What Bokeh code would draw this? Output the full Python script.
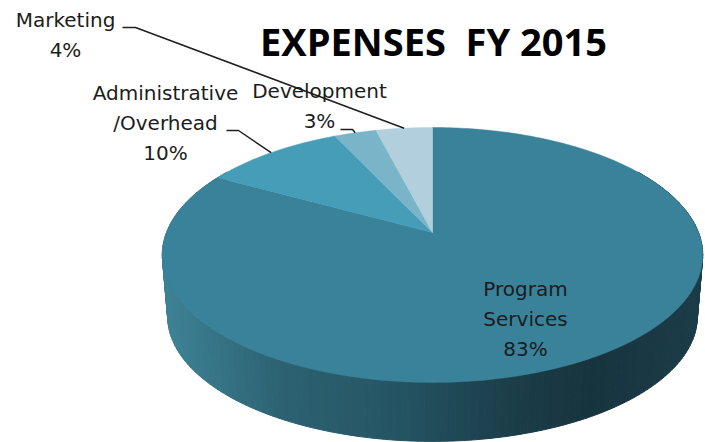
import math
from bokeh.plotting import figure
from bokeh.models import Range1d
from bokeh.embed import file_html
from bokeh.resources import INLINE

title = "EXPENSES\u00a0\u00a0FY 2015"
categories = ["Program Services", "Administrative /Overhead", "Development", "Marketing"]
values = [83, 10, 3, 4]
label_lines = [["Program", "Services", "83%"],
               ["Administrative", "/Overhead", "10%"],
               ["Development", "3%"],
               ["Marketing", "4%"]]
colors = ["#3a8299", "#469db7", "#7ab4c9", "#b1cfdc"]

W, H = 705, 442
p = figure(width=W, height=H, output_backend="svg", toolbar_location=None,
           x_range=Range1d(0, W), y_range=Range1d(H, 0),
           min_border=0, outline_line_color=None, background_fill_color="white")
p.axis.visible = False
p.grid.visible = False

CX, CY, B, A, K = 432, 232, 266, 123.5, 0.176
DEPTH, SHRINK = 62, 0.98


def project(frac, scale=1.0, dy=0.0):
    t = 2 * math.pi * frac
    u, v = math.sin(t), math.cos(t)
    w = 1 + K * v
    return CX + scale * B * u / w, CY + dy - scale * A * v / w


wall_stops = [(162, (62, 130, 150)), (280, (44, 98, 114)), (400, (36, 84, 99)),
              (500, (28, 63, 75)), (590, (23, 52, 62)), (703, (27, 60, 72))]


def wall_color(x):
    for (x0, c0), (x1, c1) in zip(wall_stops, wall_stops[1:]):
        if x <= x1:
            f = max(0, (x - x0) / (x1 - x0))
            return "#%02x%02x%02x" % tuple(round(a + (b - a) * f) for a, b in zip(c0, c1))
    return "#%02x%02x%02x" % wall_stops[-1][1]


# side wall
N = 180
xs, ys, cs = [], [], []
for i in range(N):
    f0, f1 = 0.16 + 0.68 * i / N, 0.16 + 0.68 * (i + 1) / N
    a0, a1 = project(f0), project(f1)
    b0, b1 = project(f0, SHRINK, DEPTH), project(f1, SHRINK, DEPTH)
    xs.append([a0[0], a1[0], b1[0], b0[0]])
    ys.append([a0[1], a1[1], b1[1], b0[1]])
    cs.append(wall_color((a0[0] + a1[0]) / 2))
p.patches(xs, ys, fill_color=cs, line_color=cs, line_width=1)

# top face
total = sum(values)
start = 0.0
mids = []
for val, col in zip(values, colors):
    end = start + val / total
    n = max(3, int(val * 4))
    pts = [project(start + (end - start) * i / n) for i in range(n + 1)]
    p.patch([CX] + [q[0] for q in pts], [CY] + [q[1] for q in pts],
            fill_color=col, line_color=col, line_width=0.5)
    mids.append(project((start + end) / 2))
    start = end

# leader lines from label to wedge midpoint
leader_starts = {1: (226, 130, 238), 2: (340, 129, 352), 3: (122, 27, 135)}
for idx, (x0, y0, x1) in leader_starts.items():
    mx, my = mids[idx]
    p.line([x0, x1, mx], [y0, y0, my], line_color="#1f1f1f", line_width=1.5)

LABEL_FONT = "DejaVu Sans"
LABEL_SIZE = "20px"
LINE_H = 30
label_pos = [(525, 288), (165, 92), (319, 90), (65, 19)]
for lines, (lx, ly) in zip(label_lines, label_pos):
    for j, s in enumerate(lines):
        p.text([lx], [ly + j * LINE_H], text=[s], text_align="center", text_baseline="middle",
               text_font={"value": LABEL_FONT}, text_font_size=LABEL_SIZE, text_color="#1c1c1c")

p.text([433], [40], text=[title], text_align="center", text_baseline="middle",
       text_font={"value": "Open Sans"}, text_font_style="bold", text_font_size="38px",
       text_color="#000000")

open("out.html", "w").write(file_html(p, INLINE))
